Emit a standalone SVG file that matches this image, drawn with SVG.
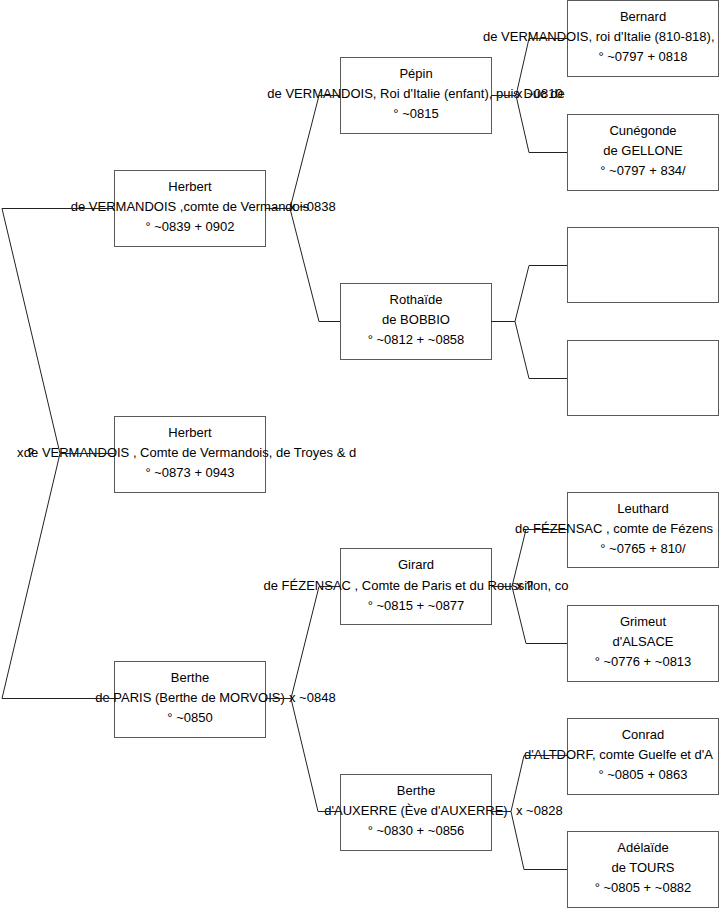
<svg xmlns="http://www.w3.org/2000/svg" width="719" height="908" viewBox="0 0 719 908">
<style>
.box{fill:#fff;stroke:#5a5a5a;stroke-width:1}
.c{fill:none;stroke:#222;stroke-width:1}
text{font-family:"Liberation Sans",Arial,sans-serif;font-size:13px;fill:#000}
.m{text-anchor:middle}
</style>
<rect width="719" height="908" fill="#fff"/>
<g id="boxes">
<g id="bernard"><rect class="box" x="567.5" y="0.5" width="151" height="76"/><text class="m" x="643" y="21">Bernard</text><text x="483" y="41">de VERMANDOIS, roi d'Italie (810-818),</text><text class="m" x="643" y="61">° ~0797 + 0818</text></g>
<g id="pepin"><rect class="box" x="340.5" y="57.5" width="151" height="76"/><text class="m" x="416" y="78">Pépin</text><text class="m" x="416" y="98">de VERMANDOIS, Roi d'Italie (enfant), puis Duc de</text><text class="m" x="416" y="118">° ~0815</text></g>
<g id="cunegonde"><rect class="box" x="567.5" y="114.5" width="151" height="76"/><text class="m" x="643" y="135">Cunégonde</text><text class="m" x="643" y="155">de GELLONE</text><text class="m" x="643" y="175">° ~0797 + 834/</text></g>
<g id="herbert1"><rect class="box" x="114.5" y="170.5" width="151" height="76"/><text class="m" x="190" y="191">Herbert</text><text class="m" x="190" y="211">de VERMANDOIS ,comte de Vermandois</text><text class="m" x="190" y="231">° ~0839 + 0902</text></g>
<g id="empty1"><rect class="box" x="567.5" y="227.5" width="151" height="75"/></g>
<g id="rothaide"><rect class="box" x="340.5" y="283.5" width="151" height="76"/><text class="m" x="416" y="304">Rothaïde</text><text class="m" x="416" y="324">de BOBBIO</text><text class="m" x="416" y="344">° ~0812 + ~0858</text></g>
<g id="empty2"><rect class="box" x="567.5" y="340.5" width="151" height="75"/></g>
<g id="herbert2"><rect class="box" x="114.5" y="416.5" width="151" height="76"/><text class="m" x="190" y="437">Herbert</text><text class="m" x="190" y="457">de VERMANDOIS , Comte de Vermandois, de Troyes &amp; d</text><text class="m" x="190" y="477">° ~0873 + 0943</text></g>
<g id="leuthard"><rect class="box" x="567.5" y="492.5" width="151" height="75"/><text class="m" x="643" y="513">Leuthard</text><text x="515" y="533">de FÉZENSAC , comte de Fézens</text><text class="m" x="643" y="553">° ~0765 + 810/</text></g>
<g id="girard"><rect class="box" x="340.5" y="548.5" width="151" height="76"/><text class="m" x="416" y="569">Girard</text><text class="m" x="416" y="590">de FÉZENSAC , Comte de Paris et du Roussillon, co</text><text class="m" x="416" y="610">° ~0815 + ~0877</text></g>
<g id="grimeut"><rect class="box" x="567.5" y="605.5" width="151" height="76"/><text class="m" x="643" y="626">Grimeut</text><text class="m" x="643" y="646">d'ALSACE</text><text class="m" x="643" y="666">° ~0776 + ~0813</text></g>
<g id="berthe-paris"><rect class="box" x="114.5" y="661.5" width="151" height="76"/><text class="m" x="190" y="682">Berthe</text><text class="m" x="190" y="702">de PARIS (Berthe de MORVOIS)</text><text class="m" x="190" y="722">° ~0850</text></g>
<g id="conrad"><rect class="box" x="567.5" y="718.5" width="151" height="76"/><text class="m" x="643" y="739">Conrad</text><text x="524" y="759">d'ALTDORF, comte Guelfe et d'A</text><text class="m" x="643" y="779">° ~0805 + 0863</text></g>
<g id="berthe-auxerre"><rect class="box" x="340.5" y="774.5" width="151" height="76"/><text class="m" x="416" y="795">Berthe</text><text class="m" x="416" y="815">d'AUXERRE (Ève d'AUXERRE)</text><text class="m" x="416" y="835">° ~0830 + ~0856</text></g>
<g id="adelaide"><rect class="box" x="567.5" y="831.5" width="151" height="76"/><text class="m" x="643" y="852">Adélaïde</text><text class="m" x="643" y="872">de TOURS</text><text class="m" x="643" y="892">° ~0805 + ~0882</text></g>
</g>
<g id="connectors">
<path class="c" d="M114,208.5 H2 L60,453.5 H114 M60,453.5 L2,698.5 H114"/>
<path class="c" d="M265,208.5 H290 L319,95.5 H340 M290,208.5 L319,321.5 H340"/>
<path class="c" d="M265,698.5 H291 L319,586.5 H340 M291,698.5 L318,811.5 H340"/>
<path class="c" d="M491,95.5 H516 L529,38.5 H567 M516,95.5 L529,152.5 H567"/>
<path class="c" d="M491,321.5 H515 L529,265.5 H567 M515,321.5 L529,378.5 H567"/>
<path class="c" d="M491,586.5 H512 L526,529.5 H567 M512,586.5 L526,643.5 H567"/>
<path class="c" d="M491,811.5 H511 L524,755.5 H567 M511,811.5 L524,869.5 H567"/>
</g>
<g id="labels">
<text x="17" y="457">x ?</text>
<text x="289" y="211">x ~0838</text>
<text x="289" y="702">x ~0848</text>
<text x="516" y="98">x ~0810</text>
<text x="516" y="590">x ?</text>
<text x="516" y="815">x ~0828</text>
</g>
</svg>
